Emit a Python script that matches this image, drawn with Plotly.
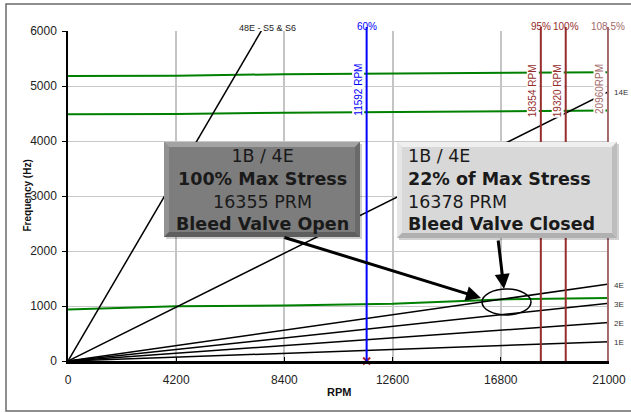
import plotly.graph_objects as go

# ---------------- data ----------------
rpm_grid = [0, 4200, 8400, 12600, 16800, 21000]
mode_top = [5180, 5185, 5215, 5230, 5240, 5250]
mode_mid = [4485, 4490, 4515, 4530, 4545, 4555]
mode_low = [935, 995, 1010, 1040, 1120, 1145]

order_labels = ["1E", "2E", "3E", "4E", "14E", "48E - S5 & S6"]
order_end_rpm = [21000, 21000, 21000, 21000, 21000, 7575]
order_end_freq = [350, 700, 1050, 1400, 4900, 6060]

speed_rpm = [11592, 18354, 19320, 20960]
speed_pct = ["60%", "95%", "100%", "108.5%"]
speed_labels = ["11592 RPM", "18354 RPM", "19320 RPM", "20960RPM"]
speed_colors = ["#0000ff", "#952d2d", "#952d2d", "#a46a6a"]

x_ticks = [0, 4200, 8400, 12600, 16800, 21000]
y_ticks = [0, 1000, 2000, 3000, 4000, 5000, 6000]

callout_left = ["1B / 4E", "100% Max Stress", "16355 PRM", "Bleed Valve Open"]
callout_right = ["1B / 4E", "22% of Max Stress", "16378 PRM", "Bleed Valve Closed"]

# ---------------- layout helpers (pixel -> paper) ----------------
W, H = 631, 413
L, R, T, B = 68, 22, 31, 52
PW, PH = W - L - R, H - T - B


def px(x):
    return (x - L) / PW


def py(y):
    return (H - B - y) / PH


FONT = "Arial, Liberation Sans, sans-serif"

fig = go.Figure()

# natural frequency lines (green)
for ys in (mode_top, mode_mid, mode_low):
    fig.add_trace(go.Scatter(x=rpm_grid, y=ys, mode="lines",
                             line=dict(color="#008000", width=2),
                             hoverinfo="skip", showlegend=False))

# engine order lines (black)
for lab, xr, yf in zip(order_labels, order_end_rpm, order_end_freq):
    fig.add_trace(go.Scatter(x=[0, xr], y=[0, yf], mode="lines",
                             line=dict(color="black", width=1.5),
                             hoverinfo="skip", showlegend=False))

# marker at 60% speed
fig.add_trace(go.Scatter(x=[speed_rpm[0]], y=[0], mode="markers",
                         marker=dict(symbol="x-thin", size=7,
                                     line=dict(color="#b22222", width=2)),
                         cliponaxis=False, hoverinfo="skip", showlegend=False))

shapes = []
annotations = []

# outer frame
shapes.append(dict(type="rect", xref="paper", yref="paper",
                   x0=px(6), x1=px(660), y0=py(411), y1=py(4),
                   line=dict(color="#6a6a6a", width=1.5), layer="below"))

# speed lines
for xr, pct, lab, col in zip(speed_rpm, speed_pct, speed_labels, speed_colors):
    shapes.append(dict(type="line", xref="x", yref="paper", x0=xr, x1=xr,
                       y0=0, y1=py(27), line=dict(color=col, width=2),
                       layer="above"))
    annotations.append(dict(x=xr, y=py(19), xref="x", yref="paper",
                            text=pct, showarrow=False,
                            font=dict(family=FONT, size=10, color=col)))
    annotations.append(dict(x=xr, y=py(63), xref="x", yref="paper",
                            text=lab, showarrow=False, textangle=-90,
                            xshift=-8, bgcolor="white", borderpad=0,
                            font=dict(family=FONT, size=10, color=col)))

# engine order labels
for lab, xr, yf in zip(order_labels, order_end_rpm, order_end_freq):
    if xr == 21000:
        annotations.append(dict(x=xr, y=yf, xref="x", yref="y", text=lab,
                                showarrow=False, xanchor="left", xshift=3,
                                yshift=-1,
                                font=dict(family=FONT, size=8, color="#333")))
    else:
        annotations.append(dict(x=px(267), y=py(21), xref="paper", yref="paper",
                                text=lab, showarrow=False,
                                font=dict(family=FONT, size=9, color="#222")))


def bevel_box(x0, y0, x1, y1, fill, top, left, right, bottom, b=5):
    X0, X1 = px(x0), px(x1)
    Y0, Y1 = py(y0), py(y1)
    bx, by = b / PW, b / PH
    # shadow
    shapes.append(dict(type="rect", xref="paper", yref="paper",
                       x0=px(x0 + 2), x1=px(x1 + 2), y0=py(y1 + 2), y1=py(y0 + 2),
                       fillcolor="rgba(0,0,0,0.18)", line=dict(width=0),
                       layer="above"))
    shapes.append(dict(type="rect", xref="paper", yref="paper",
                       x0=X0, x1=X1, y0=Y1, y1=Y0, fillcolor=fill,
                       line=dict(width=0), layer="above"))

    def poly(pts, col):
        path = "M " + " L ".join(f"{a},{c}" for a, c in pts) + " Z"
        shapes.append(dict(type="path", xref="paper", yref="paper", path=path,
                           fillcolor=col, line=dict(width=0), layer="above"))

    poly([(X0, Y0), (X1, Y0), (X1 - bx, Y0 - by), (X0 + bx, Y0 - by)], top)
    poly([(X0, Y0), (X0 + bx, Y0 - by), (X0 + bx, Y1 + by), (X0, Y1)], left)
    poly([(X1, Y0), (X1, Y1), (X1 - bx, Y1 + by), (X1 - bx, Y0 - by)], right)
    poly([(X0, Y1), (X1, Y1), (X1 - bx, Y1 + by), (X0 + bx, Y1 + by)], bottom)


bevel_box(164, 142, 360, 237, "#7d7d7d", "#a3a3a3", "#929292", "#6a6a6a", "#5e5e5e")
bevel_box(397, 142, 617, 238, "#d8d8d8", "#efefef", "#e6e6e6", "#bdbdbd", "#b0b0b0")


def callout_text(lines):
    return "<br>".join(f"<b>{t}</b>" if i % 2 == 1 else t for i, t in enumerate(lines))


annotations.append(dict(x=px(262), y=py(190), xref="paper", yref="paper",
                        text=callout_text(callout_left), showarrow=False,
                        align="center",
                        font=dict(family="DejaVu Sans, Verdana, sans-serif",
                                  size=17.5, color="#1a1a1a")))
annotations.append(dict(x=px(406), y=py(190), xref="paper", yref="paper",
                        text=callout_text(callout_right), showarrow=False,
                        align="left", xanchor="left",
                        font=dict(family="DejaVu Sans, Verdana, sans-serif",
                                  size=17.5, color="#1a1a1a")))

# highlight ellipse
shapes.append(dict(type="circle", xref="paper", yref="paper",
                   x0=px(482), x1=px(531), y0=py(315), y1=py(289),
                   line=dict(color="black", width=1.5), layer="above"))

# arrows
annotations.append(dict(x=px(481), y=py(298), xref="paper", yref="paper",
                        ax=-198, ay=-61, text="", showarrow=True,
                        arrowhead=2, arrowsize=1, arrowwidth=3,
                        arrowcolor="black", standoff=0))
annotations.append(dict(x=px(504), y=py(289), xref="paper", yref="paper",
                        ax=-6, ay=-50, text="", showarrow=True,
                        arrowhead=2, arrowsize=1, arrowwidth=3,
                        arrowcolor="black", standoff=0))

# axis titles
annotations.append(dict(x=px(19), y=py(196), xref="paper", yref="paper",
                        text="<b>Frequency (Hz)</b>", showarrow=False,
                        textangle=-90,
                        font=dict(family=FONT, size=10, color="#111")))
annotations.append(dict(x=px(339), y=py(400), xref="paper", yref="paper",
                        text="<b>RPM</b>", showarrow=False,
                        font=dict(family=FONT, size=11, color="#111")))

fig.update_layout(
    width=W, height=H,
    margin=dict(l=L, r=R, t=T, b=B, pad=0, autoexpand=False),
    paper_bgcolor="white", plot_bgcolor="white",
    shapes=shapes, annotations=annotations,
    showlegend=False,
    xaxis=dict(range=[0, 21000], tickvals=x_ticks,
               ticktext=[str(v) for v in x_ticks], automargin=False,
               showgrid=True, gridcolor="#c4c4c4", gridwidth=2,
               zeroline=False, showline=True, linecolor="black", linewidth=3,
               ticks="inside", ticklen=4, tickcolor="black", tickwidth=1,
               ticklabelstandoff=6,
               tickfont=dict(family=FONT, size=12, color="#222")),
    yaxis=dict(range=[0, 6000], tickvals=y_ticks, automargin=False,
               showgrid=True, gridcolor="#c8c8c8", gridwidth=1,
               zeroline=False, showline=True, linecolor="black", linewidth=1.5,
               ticks="outside", ticklen=4, tickcolor="black", tickwidth=1,
               ticklabelstandoff=3,
               tickfont=dict(family=FONT, size=12, color="#222")),
)

fig.write_html("out.html",
               config={"displayModeBar": False},
               post_script="document.body.style.margin='0';document.body.style.overflow='hidden';")
